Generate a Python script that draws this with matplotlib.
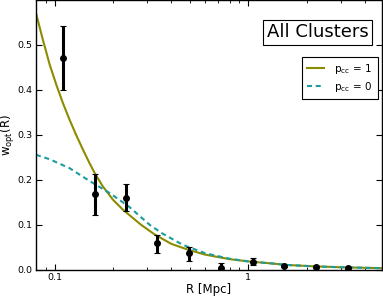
import numpy as np
import matplotlib
matplotlib.use('Agg')
import matplotlib.pyplot as plt

# measured points (R in Mpc)
r_data = [0.110, 0.161, 0.233, 0.339, 0.496, 0.72, 1.06, 1.53, 2.24, 3.28]
w_data = [0.470, 0.169, 0.159, 0.059, 0.037, 0.004, 0.018, 0.009, 0.0074, 0.005]
w_err_lo = [0.070, 0.046, 0.029, 0.021, 0.016, 0.004, 0.007, 0.003, 0.002, 0.002]
w_err_hi = [0.072, 0.044, 0.032, 0.019, 0.013, 0.011, 0.008, 0.003, 0.002, 0.002]

# model curves
r_p1 = [0.08, 0.0864, 0.0942, 0.102, 0.1104, 0.1195, 0.129, 0.140, 0.151,
        0.161, 0.177, 0.200, 0.225, 0.243, 0.28, 0.328, 0.40, 0.496, 0.60,
        0.80, 1.0, 1.28, 1.6, 2.2, 3.0, 4.9]
w_p1 = [0.571, 0.515, 0.456, 0.411, 0.370, 0.333, 0.300, 0.267, 0.238,
        0.215, 0.186, 0.156, 0.134, 0.122, 0.100, 0.079, 0.058, 0.044, 0.034,
        0.024, 0.019, 0.015, 0.011, 0.008, 0.006, 0.004]
r_p0 = [0.08, 0.0942, 0.1195, 0.151, 0.192, 0.243, 0.31, 0.36, 0.458, 0.60,
        0.80, 1.0, 1.28, 1.6, 2.2, 3.0, 4.9]
w_p0 = [0.256, 0.246, 0.226, 0.198, 0.171, 0.140, 0.100, 0.081, 0.056, 0.037,
        0.025, 0.019, 0.015, 0.011, 0.008, 0.006, 0.004]

fig = plt.figure(figsize=(3.83, 2.96), dpi=100)
ax = fig.add_axes([0.094, 0.088, 0.903, 0.912])

ax.plot(r_p1, w_p1, '-', color='#8c8c00', lw=1.5, label=r'p$_{\rm cc}$ = 1')
ax.plot(r_p0, w_p0, '--', color='#1c9c9c', lw=1.5, dashes=(2.4, 1.8),
        label=r'p$_{\rm cc}$ = 0')
ax.errorbar(r_data, w_data, yerr=[w_err_lo, w_err_hi], fmt='o', color='k',
            ms=4, elinewidth=2.2, capsize=2.5, capthick=0.8, ecolor='k',
            zorder=5)

ax.set_xscale('log')
ax.set_xlim(0.08, 4.9)
ax.set_ylim(0, 0.6)
ax.set_yticks([0.0, 0.1, 0.2, 0.3, 0.4, 0.5])
ax.set_xticks([0.1, 1])
ax.set_xticklabels(['0.1', '1'])
ax.tick_params(which='both', direction='in', top=True, right=True, labelsize=6.8)
ax.tick_params(which='major', length=4, pad=2.5)
ax.tick_params(which='minor', length=2)
for s in ax.spines.values():
    s.set_linewidth(1.0)

ax.set_xlabel('R [Mpc]', fontsize=8.5)
ax.xaxis.set_label_coords(0.5, -0.0715)
ax.xaxis.label.set_va('center')
ax.set_ylabel(r'w$_{\rm opt}$(R)', fontsize=8.5)
ax.yaxis.set_label_coords(-0.081, 0.5)
ax.yaxis.label.set_va('center')

ax.text(0.814, 0.88, 'All Clusters', transform=ax.transAxes, fontsize=13,
        ha='center', va='center',
        bbox=dict(boxstyle='square,pad=0.2', fc='white', ec='k', lw=0.8))

leg = ax.legend(loc='upper right', bbox_to_anchor=(0.988, 0.79), fontsize=7.5,
                fancybox=False, framealpha=1, edgecolor='k', handlelength=1.6,
                handletextpad=1.0, borderpad=0.5, labelspacing=0.4,
                borderaxespad=0)
leg.get_frame().set_linewidth(0.8)

fig.savefig('out.png', dpi=100)
